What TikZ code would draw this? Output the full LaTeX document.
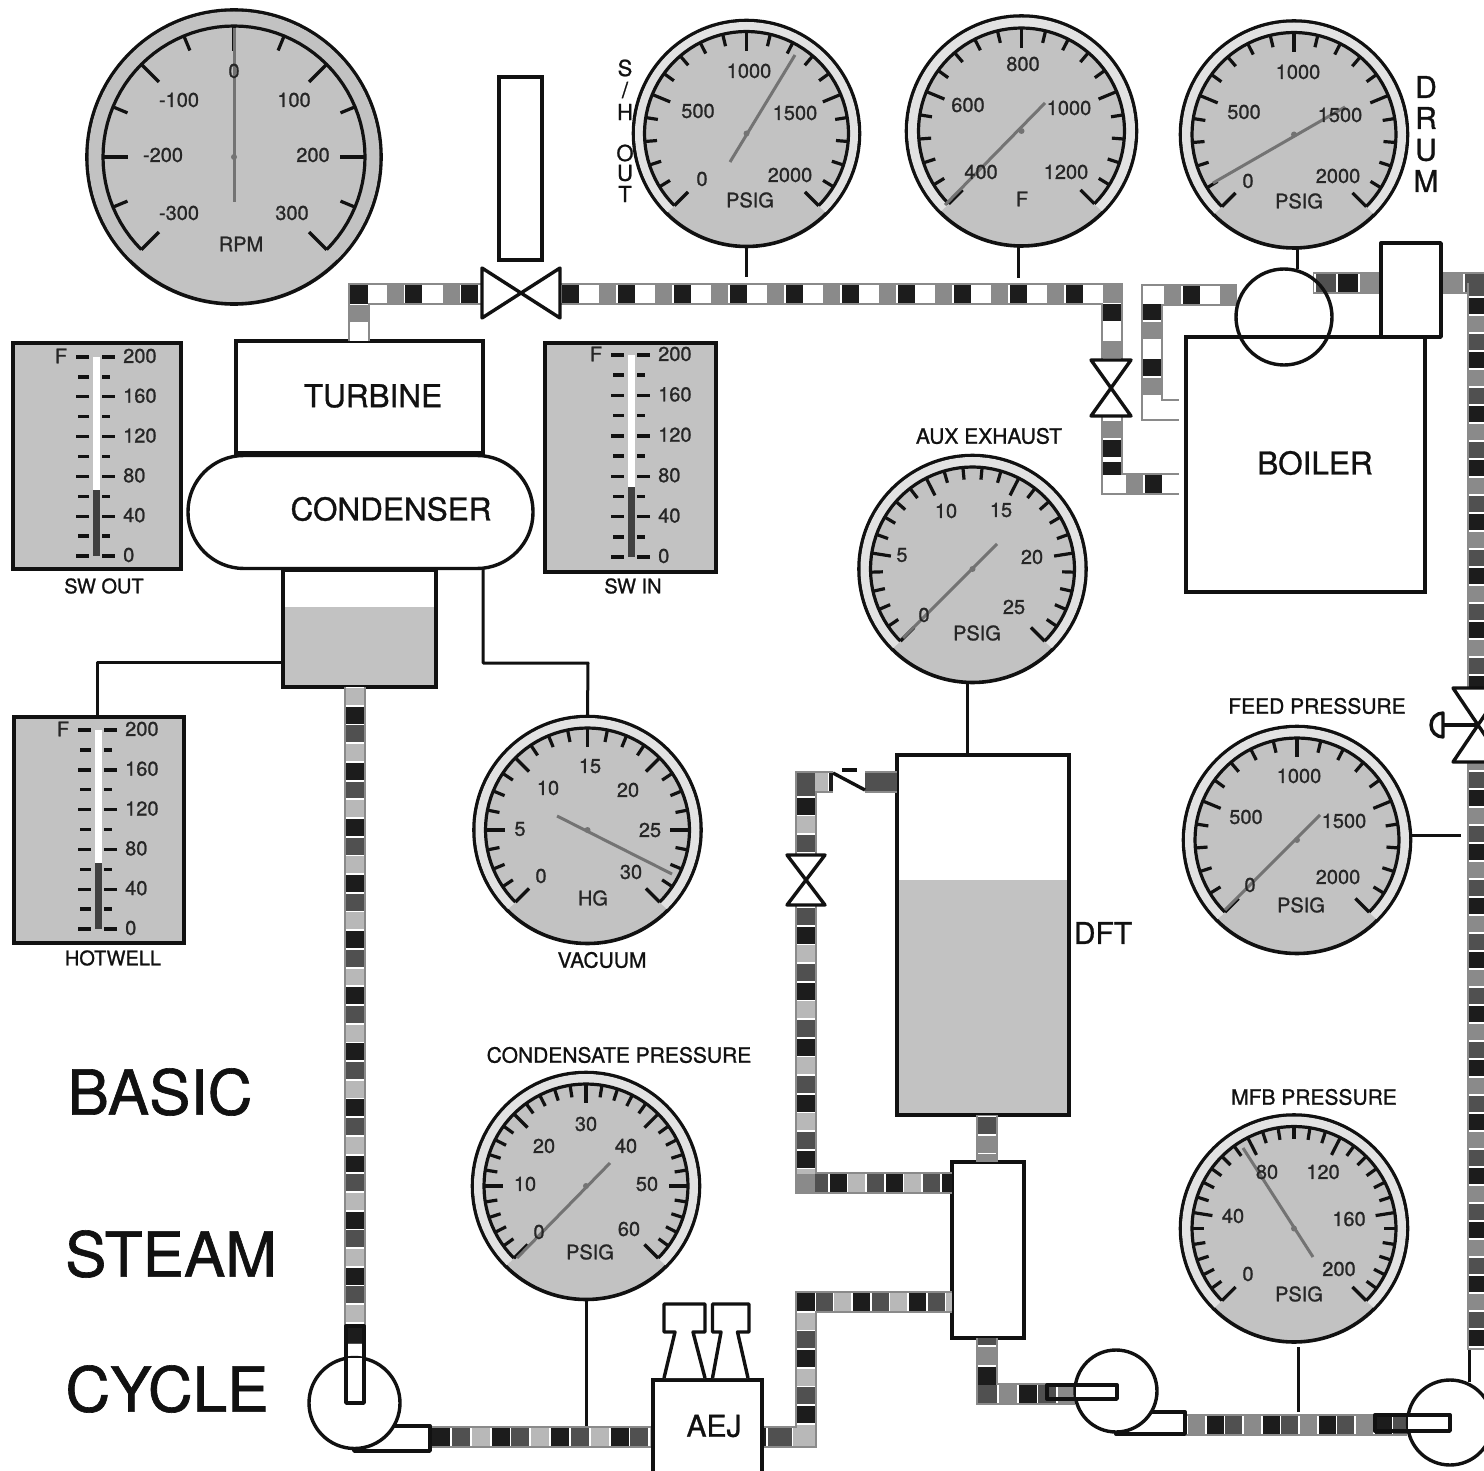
\documentclass[tikz,border=0pt]{standalone}
\usepackage{fontspec}
\setmainfont[FakeBold=1.0]{TeX Gyre Heros}
\definecolor{dialgray}{HTML}{C2C2C2}
\definecolor{ringgray}{HTML}{E2E2E2}
\definecolor{pk}{HTML}{1C1C1C}
\definecolor{pd}{HTML}{505050}
\definecolor{pm}{HTML}{8A8A8A}
\definecolor{pl}{HTML}{B8B8B8}
\definecolor{inkc}{HTML}{111111}
\tikzset{
  x=1pt,y=-1pt,
  ln/.style={draw=inkc,line width=3.4pt,line join=round},
  thin ln/.style={draw=inkc,line width=3pt,line join=round},
  boxs/.style={rectangle,draw=inkc,line width=3.4pt,inner sep=0pt,outer sep=0pt,fill=white},
  pipeouter/.style={draw=pm,line width=22pt,line join=miter},
  pipeinner/.style={draw=white,line width=18.5pt,line join=miter},
  pipedash/.style={line width=18.5pt,line join=miter},
  dial/.style={circle,draw=inkc,line width=3.6pt,inner sep=0pt,outer sep=0pt},
  glin/.style={draw=inkc,line width=3.2pt,line cap=butt,line join=round},
  needl/.style={draw=black!55,line width=3pt},
  tick/.style={draw=inkc,line width=3.4pt},
  gtxt/.style={inner sep=0pt,text=black!85,font=\fontsize{20}{24}\selectfont},
  ttxt/.style={inner sep=0pt,text=inkc,font=\fontsize{21}{25}\selectfont},
  ltxt/.style={inner sep=0pt,text=inkc,font=\fontsize{31.5}{36}\selectfont},
  htxt/.style={inner sep=0pt,text=inkc,font=\fontsize{62}{70}\selectfont},
  anch/.style={rectangle,inner sep=0pt,outer sep=0pt},
}
\newcommand\boxn[6][]{%
  \node[boxs,minimum width={(#5-#3)*1pt},minimum height={(#6-#4)*1pt},#1] (#2) at ({(#3+#5)/2},{(#4+#6)/2}) {};}
\newcommand\pipe[6]{% period, first start, path, three colours
  \draw[pipeouter] #3;\draw[pipeinner] #3;
  \pgfmathsetmacro\pon{#1/3-1.8}%
  \pgfmathsetmacro\poff{#1-\pon}%
  \pgfmathsetmacro\pa{mod(3*#1-#2,#1)}%
  \pgfmathsetmacro\pb{mod(3*#1-#2-#1/3,#1)}%
  \pgfmathsetmacro\pc{mod(3*#1-#2-2*#1/3,#1)}%
  \draw[pipedash,draw=#4,dash pattern=on \pon pt off \poff pt,dash phase=\pa pt] #3;
  \draw[pipedash,draw=#5,dash pattern=on \pon pt off \poff pt,dash phase=\pb pt] #3;
  \draw[pipedash,draw=#6,dash pattern=on \pon pt off \poff pt,dash phase=\pc pt] #3;}
\newcommand\corner[2]{\fill[#2] (#1) ++(-9.2,-9.2) rectangle ++(18.4,18.4);}
\newcommand\gauge[8]{% name cx cy R r intervals majorevery ring
  \node[dial,fill=dialgray,minimum size={2*#4*1pt}] (#1) at (#2,#3) {};
  \draw[draw=#8,line width={(#4-#5-1.5)*1pt}] plot[variable=\t,domain=225:-45,samples=73] ({#2+(#4+#5-1.5)/2*cos(\t)},{#3-(#4+#5-1.5)/2*sin(\t)});
  \draw[glin] plot[variable=\t,domain=225:-45,samples=73] ({#2+#5*cos(\t)},{#3-#5*sin(\t)});
  \foreach \i in {0,...,#6}{%
    \pgfmathsetmacro\aa{225-270*\i/#6}%
    \pgfmathsetmacro\ll{mod(\i,#7)==0 ? 0.19*#5 : 0.12*#5}%
    \draw[glin] ({#2+#5*cos(\aa)},{#3-#5*sin(\aa)}) -- ({#2+(#5-\ll)*cos(\aa)},{#3-(#5-\ll)*sin(\aa)});
  }}
\newcommand\needle[5]{%
  \coordinate (#1na) at (#2,#3);\coordinate (#1nb) at (#4,#5);
  \draw[needl] (#1na) -- (#1nb);
  \fill[black!55] (#1.center) circle[radius=3pt];}
\newcommand\glabels[2]{%
  \foreach \px/\py/\tx [count=\n] in {#2}{\node[gtxt] (#1l\n) at (\px,\py) {\tx};}}
\newcommand\thermo[5]{% name col ytop ybot level
  \fill[white] ({#2-3.5},#3) rectangle ({#2+3.5},#5);
  \fill[pd!80!black] ({#2-3.5},#5) rectangle ({#2+3.5},#4);
  \foreach \i in {0,...,10}{%
    \pgfmathsetmacro\yy{#3+\i*(#4-#3)/10}%
    \pgfmathsetmacro\val{int(200-20*\i)}%
    \pgfmathtruncatemacro\isodd{mod(\i,2)}%
    \ifnum\isodd=0
      \draw[tick] ({#2-20},\yy) -- ({#2-7},\yy);
      \draw[tick] ({#2+6},\yy) -- ({#2+19},\yy);
      \node[gtxt,anchor=west] (#1t\i) at ({#2+27},{\yy-1}) {\val};
    \else
      \draw[tick] ({#2-18},\yy) -- ({#2-7},\yy);
      \draw[tick] ({#2+6},\yy) -- ({#2+14},\yy);
    \fi
  }
  \node[gtxt] (#1f) at ({#2-35},{#3-1}) {F};}
\newcommand\pump[4]{% name cx cy r
  \node[circle,draw=inkc,line width=3.4pt,fill=white,inner sep=0pt,outer sep=0pt,minimum size={2*#4*1pt}] (#1) at (#2,#3) {};}
\newcommand\valvenode[5]{%
  \node[anch,minimum width=#4pt,minimum height=#5pt] (#1) at (#2,#3) {};}
\newcommand\bowH[1]{%
  \draw[ln,fill=white] (#1.north west) -- (#1.south east) -- (#1.north east) -- (#1.south west) -- cycle;}
\newcommand\bowV[1]{%
  \draw[ln,fill=white] (#1.north west) -- (#1.north east) -- (#1.south west) -- (#1.south east) -- cycle;}
\begin{document}
\begin{tikzpicture}
\fill[white] (0,0) rectangle (1484,1471);
\useasboundingbox (0,0) rectangle (1484,1471);
\clip (0,0) rectangle (1484,1471);

% ---------- gauges
\gauge{gRPM}{234}{157}{147}{131}{12}{2}{dialgray}
\needle{gRPM}{234}{28}{234}{202}
\glabels{gRPM}{234/71/0,179/100/-100,294/100/100,163/155/-200,313/155/200,179/213/-300,292/213/300,241/244/RPM}

\gauge{gSH}{746.5}{133.5}{113}{102}{20}{5}{ringgray}
\needle{gSH}{730}{162}{795}{55}
\glabels{gSH}{749/71/1000,698/111/500,795/113/1500,702/179/0,790/175/2000,750/200/PSIG}

\gauge{gF}{1021.5}{131}{115}{103}{20}{5}{ringgray}
\needle{gF}{945}{205}{1045}{103}
\glabels{gF}{1023/64/800,968/105/600,1069/108/1000,981/172/400,1066/172/1200,1022/199/F}

\gauge{gDrum}{1294}{134.5}{113.5}{102}{20}{5}{ringgray}
\needle{gDrum}{1213}{183}{1345}{107}
\glabels{gDrum}{1298/72/1000,1244/112/500,1340/115/1500,1248/181/0,1338/176/2000,1299/201/PSIG}

\gauge{gAux}{972.5}{569}{113.5}{102}{25}{5}{ringgray}
\needle{gAux}{903}{638}{997}{544}
\glabels{gAux}{946/511/10,1001/510/15,902/555/5,1032/557/20,924/615/0,1014/607/25,977/633/PSIG}

\gauge{gVac}{587.5}{830}{113.5}{102}{24}{4}{ringgray}
\needle{gVac}{557}{816}{672}{874}
\glabels{gVac}{590/766/15,548/788/10,628/790/20,520/829/5,650/830/25,541/876/0,631/872/30,593/898/HG}

\gauge{gCond}{586}{1186}{113.5}{102}{30}{5}{ringgray}
\needle{gCond}{517}{1258}{610}{1163}
\glabels{gCond}{586/1124/30,544/1146/20,626/1146/40,525/1184/10,647/1184/50,539/1232/0,629/1229/60,590/1252/PSIG}

\gauge{gFeed}{1297}{840}{113.5}{102}{20}{5}{ringgray}
\needle{gFeed}{1225}{910}{1320}{815}
\glabels{gFeed}{1299/776/1000,1246/817/500,1344/821/1500,1250/885/0,1338/877/2000,1301/905/PSIG}

\gauge{gMFB}{1294}{1228.5}{113.5}{102}{30}{6}{ringgray}
\needle{gMFB}{1243}{1148}{1313}{1257}
\glabels{gMFB}{1267/1172/80,1323/1172/120,1233/1216/40,1349/1219/160,1248/1274/0,1339/1269/200,1299/1294/PSIG}

% gauge titles
\node[ttxt] (tAux) at (989,436) {AUX EXHAUST};
\node[ttxt] (tVac) at (602,960) {VACUUM};
\node[ttxt] (tCond) at (619,1055) {CONDENSATE PRESSURE};
\node[ttxt] (tFeed) at (1317,706) {FEED PRESSURE};
\node[ttxt] (tMFB) at (1314,1097) {MFB PRESSURE};

% side labels
\foreach \yy/\ch [count=\n] in {68/S,112/H,153/O,173/U,194/T}
  \node[inner sep=0pt,text=inkc,font=\fontsize{22}{26}\selectfont] (sh\n) at (625,\yy) {\ch};
\node[inner sep=0pt,text=inkc,font=\fontsize{22}{26}\selectfont] (shslash) at (625,90) {/};
\foreach \yy/\ch [count=\n] in {87/D,118/R,150/U,181/M}
  \node[inner sep=0pt,text=inkc,font=\fontsize{30}{34}\selectfont] (dr\n) at (1426,\yy) {\ch};

% ---------- thermometers
\boxn[fill=dialgray]{swOut}{13}{343}{181}{569}
\thermo{swOut}{96}{357}{556}{490}
\node[ttxt,font=\fontsize{20}{24}\selectfont] (swOutT) at (104,586) {SW OUT};
\boxn[fill=dialgray]{swIn}{545}{343}{716}{572}
\thermo{swIn}{631}{355}{557}{487}
\node[ttxt,font=\fontsize{20}{24}\selectfont] (swInT) at (633,586) {SW IN};
\boxn[fill=dialgray]{hot}{14}{717}{184}{943}
\thermo{hot}{98}{730}{929}{863}
\node[ttxt,font=\fontsize{20}{24}\selectfont] (hotT) at (113,958) {HOTWELL};

% ---------- equipment
\boxn{turbine}{236}{341}{483}{453}
\node[ltxt] (turbineT) at (373,396) {TURBINE};
\boxn{tank}{283}{570}{436}{687}
\fill[dialgray] (284.7,607) rectangle (434.3,685.3);
\node[rectangle,rounded corners=56pt,draw=inkc,line width=3.4pt,fill=white,inner sep=0pt,outer sep=0pt,minimum width=345pt,minimum height=113pt] (cond) at (360.5,512) {};
\node[ltxt] (condT) at (391,509) {CONDENSER};
\boxn{column}{499}{77}{542}{260}
\boxn{dft}{897}{755}{1069}{1115}
\fill[dialgray] (898.7,880) rectangle (1067.3,1113.3);
\node[ltxt,font=\fontsize{30}{34}\selectfont] (dftT) at (1103,933) {DFT};
\boxn{mix}{952}{1162}{1024}{1338}
\node[circle,draw=none,fill=white,inner sep=0pt,minimum size=96pt] (drumfill) at (1284,317) {};

% ---------- valve and separator anchors
\node[anch,minimum width=60pt,minimum height=94pt] (sep) at (1411,290) {};
\valvenode{vTop}{521}{293}{78}{50}
\valvenode{vSt}{1111}{388}{40}{56}
\valvenode{vDft}{806}{880}{38}{50}
\valvenode{vMain}{1478}{725}{50}{74}

% ---------- junction coordinates
\coordinate (j1) at (359,294);
\coordinate (j2) at (1112,294);
\coordinate (j2a) at (1112,360);
\coordinate (j2b) at (1112,416);
\coordinate (j3a) at (1112,462);
\coordinate (j3) at (1112,484);
\coordinate (e3) at (1179,484);
\coordinate (s4) at (1237,295);
\coordinate (j4) at (1152,295);
\coordinate (j4a) at (1152,395);
\coordinate (j4b) at (1152,410);
\coordinate (e4) at (1179,410);
\coordinate (s5) at (1313,283);
\coordinate (j5) at (1478,283);
\coordinate (j5x) at (1492,283);
\coordinate (e5) at (1478,1350);
\coordinate (j6) at (806,1437);
\coordinate (j6a) at (806,1425);
\coordinate (j7) at (806,1302);
\coordinate (j8) at (987,1394);
\coordinate (j9) at (806,1183);
\coordinate (j10) at (806,782);
\coordinate (cv1) at (833,782);
\coordinate (cv2) at (865,782);
\coordinate (o1) at (355,687);
\coordinate (t1) at (355,1343);
\coordinate (o2) at (430,1437);
\coordinate (o3) at (1185,1425);
\coordinate (t2) at (1075,1394);
\coordinate (t3) at (1407,1425);

% ---------- pipes
\pipe{56}{0}{(j1 |- turbine.north) -- (j1) -- (j1 -| vTop.west)}{white}{pm}{pk}
\pipe{56}{2}{(j1 -| vTop.east) -- (j2) -- (j2a)}{pk}{white}{pm}
\pipe{56}{5}{(j2b) -- (j3a)}{pm}{pk}{white}
\pipe{56}{36}{(j3a) -- (j3) -- (e3)}{pm}{pk}{white}
\pipe{56}{0}{(s4) -- (j4) -- (j4a)}{pm}{white}{pk}
\pipe{56}{0}{(j4a) -- (j4b) -- (e4)}{white}{white}{white}
\pipe{66}{3}{(s5) -- (s5 -| sep.west)}{pd}{pk}{pm}
\pipe{66}{2}{(s5 -| sep.east) -- (j5x)}{pm}{pd}{pk}
\pipe{54}{15}{(j5) -- (j5 |- vMain.north)}{pk}{pm}{pd}
\pipe{54}{28}{(j5 |- vMain.south) -- (e5)}{pk}{pm}{pd}
\pipe{56.1}{1}{(o1) -- (t1)}{pl}{pk}{pd}
\pipe{59.5}{2}{(o2) -- (653,1437)}{pk}{pd}{pl}
\pipe{76}{6}{(762,1437) -- (j6) -- (j6a)}{pd}{pl}{pk}
\pipe{56}{2}{(j6a) -- (j7) -- (j7 -| mix.west)}{pk}{pd}{pl}
\pipe{56}{2}{(987,1115) -- (987,1162)}{pd}{pm}{pm}
\pipe{59}{9}{(987,1338) -- (j8) -- (t2)}{pm}{pk}{pd}
\pipe{56}{3}{(o3) -- (t3)}{pm}{pk}{pd}
\pipe{56}{12}{(j9 -| mix.west) -- (j9) -- (j9 |- vDft.south)}{pd}{pl}{pk}
\pipe{56}{3}{(j9 |- vDft.north) -- (j10) -- (cv1)}{pd}{pl}{pk}
\draw[pipeouter] (cv2) -- (dft.west |- cv2);
\draw[pipedash,draw=pd] (cv2) -- (dft.west |- cv2);
\corner{j1}{pk}
\corner{j2}{pm}
\corner{j3}{white}
\corner{j4}{white}
\corner{j5}{pd}
\corner{j6}{pl}
\corner{j7}{pk}
\corner{j8}{pd}
\corner{j9}{pm}
\corner{j10}{pd}

% equipment outlines over the pipes
\draw[ln] (drumfill.center) circle[radius=48pt];
\boxn{boiler}{1186}{337}{1425}{592}
\node[ltxt] (boilerT) at (1315,463) {BOILER};
\begin{scope}
  \clip (1186,337) rectangle (1425,592);
  \draw[ln] (drumfill.center) circle[radius=48pt];
\end{scope}
\draw[ln,fill=white] (sep.north west) rectangle (sep.south east);

% valves
\bowH{vTop}
\bowV{vSt}
\bowV{vDft}
\bowV{vMain}
\coordinate (hnd) at (1443,725);
\draw[ln] (vMain.center) -- (hnd);
\draw[ln,fill=white] (1443,713) arc[start angle=90,end angle=270,radius=12pt] -- cycle;

% check valve
\draw[ln] (cv1) ++(0,-9) -- (865,790);
\draw[ln] (842,770) -- (857,770);

% pumps
\draw[ln,fill=white] (354,1426) rectangle (430,1451);
\pump{pump1}{354.5}{1403}{45.5}
\draw[ln,fill=white] (1116,1412) rectangle (1185,1434);
\pump{pump2}{1116}{1391}{41}
\pump{pump3}{1450}{1422.5}{42.5}
\fill[white] (347,1358) rectangle (363,1402);
\fill[white] (1076,1386) rectangle (1116,1398);
\fill[white] (1408,1416) rectangle (1449,1430);
\fill[pk] (346,1326) rectangle (364,1343);
\draw[ln] (346,1326) rectangle (364,1403);
\draw[ln] (1047,1385) rectangle (1117,1399);
\draw[ln] (1375,1415) rectangle (1450,1431);

% AEJ
\boxn{aej}{653}{1380}{762}{1500}
\node[ltxt,font=\fontsize{30}{34}\selectfont] (aejT) at (714,1426) {AEJ};
\draw[ln,fill=white] (664,1378) -- (675,1332) -- (664,1332) -- (664,1304) -- (705,1304) -- (705,1332) -- (693,1332) -- (705,1378);
\draw[ln,fill=white] (712.5,1378) -- (721,1332) -- (712.5,1332) -- (712.5,1304) -- (749,1304) -- (749,1332) -- (737.5,1332) -- (748,1378);

% instrument stubs
\draw[thin ln] (gSH.south) -- ++(0,31);
\draw[thin ln] (gF.south) ++(-3,0) -- ++(0,32);
\draw[thin ln] (gDrum.south) ++(3,0) -- (1297,269);
\draw[thin ln] (gAux.south) ++(-5,0) |- (dft.north -| 968,0);
\draw[thin ln] (gFeed.east) ++(0,-5) -- (1461,835);
\draw[thin ln] (gMFB.south) ++(4,5) -- (1298,1412);
\draw[thin ln] (gCond.south) -- (586,1426);
\draw[thin ln] (tank.west |- 0,662) -| (hot.north -| 97,0);
\draw[thin ln] (483,569) |- (588,663) -- (gVac.north);
\draw[thin ln] (1469,1350) -- (1469,1382);

% big labels
\node[htxt] (basicT) at (160,1092) {BASIC};
\node[htxt] (steamT) at (171,1254) {STEAM};
\node[htxt] (cycleT) at (167,1389) {CYCLE};
\end{tikzpicture}
\end{document}
